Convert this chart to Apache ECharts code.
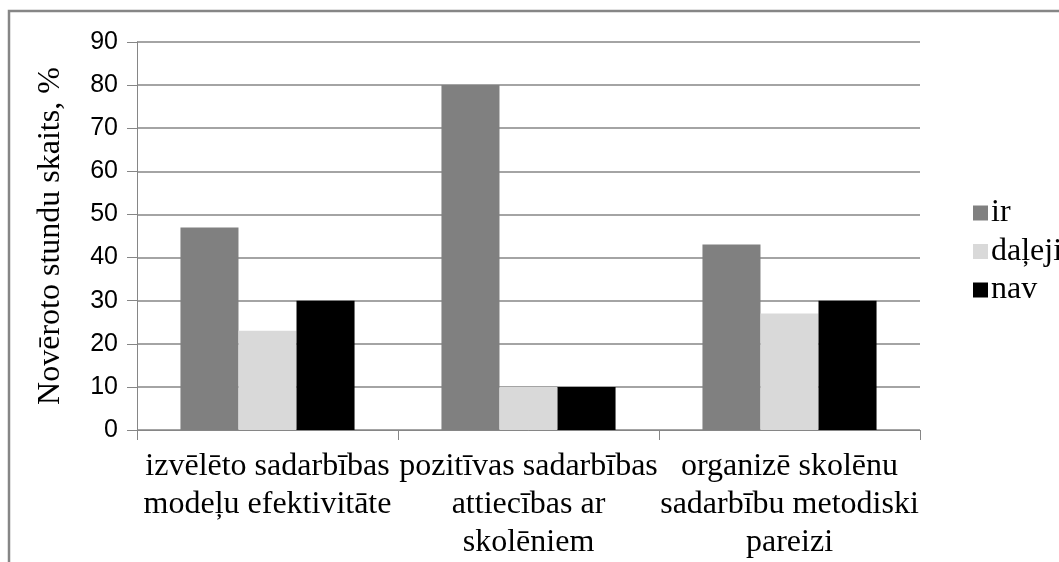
<!DOCTYPE html>
<html><head><meta charset="utf-8">
<script src="https://cdn.jsdelivr.net/npm/echarts@6/dist/echarts.min.js"></script>
<style>html,body{margin:0;padding:0;background:#fff;overflow:hidden}#c{width:1059px;height:562px}</style>
</head><body><div id="c"></div>
<script>
var categories = ["izvēlēto sadarbības\nmodeļu efektivitāte", "pozitīvas sadarbības\nattiecības ar\nskolēniem", "organizē skolēnu\nsadarbību metodiski\npareizi"];
var seriesNames = ["ir", "daļeji", "nav"];
var irValues = [47, 80, 43];
var dalejiValues = [23, 10, 27];
var navValues = [30, 10, 30];
var yTicks = [0, 10, 20, 30, 40, 50, 60, 70, 80, 90];
var yAxisTitle = "Novēroto stundu skaits, %";

var colors = ["#808080", "#d9d9d9", "#000000"];
var serif = "Liberation Serif";
var chart = echarts.init(document.getElementById('c'), null, {renderer: 'canvas'});
chart.setOption({
  animation: false,
  backgroundColor: '#fff',
  graphic: [{type: 'rect', shape: {x: 9, y: 11, width: 1100, height: 600}, style: {fill: 'none', stroke: '#868686', lineWidth: 2.5}, z: -1}],
  grid: {left: 137, width: 783, top: 42, height: 388, containLabel: false},
  legend: {
    orient: 'vertical', left: 968, top: 192, itemWidth: 15, itemHeight: 15, itemGap: 6.5,
    icon: 'rect',
    data: seriesNames,
    textStyle: {fontFamily: serif, fontSize: 32, lineHeight: 32, color: '#000', padding: [0,0,0,-2]}
  },
  xAxis: {
    type: 'category', data: categories,
    axisLine: {lineStyle: {color: '#868686', width: 1}},
    axisTick: {show: true, length: 10, lineStyle: {color: '#868686'}},
    axisLabel: {interval: 0, fontFamily: serif, fontSize: 32, color: '#000', lineHeight: 38, margin: 18}
  },
  yAxis: {
    type: 'value', min: yTicks[0], max: yTicks[yTicks.length-1], interval: 10,
    name: yAxisTitle, nameLocation: 'middle', nameGap: 70,
    nameTextStyle: {fontFamily: serif, fontSize: 32, color: '#000'},
    axisLine: {show: true, lineStyle: {color: '#868686', width: 1}},
    axisTick: {show: true, length: 10, lineStyle: {color: '#868686'}},
    axisLabel: {fontFamily: 'Liberation Sans', fontSize: 25, color: '#000', margin: 19},
    splitLine: {lineStyle: {color: '#868686', width: 1.5}}
  },
  series: [
    {name: seriesNames[0], type: 'bar', data: irValues, itemStyle: {color: colors[0]}, barGap: '0%', barCategoryGap: '33.3%'},
    {name: seriesNames[1], type: 'bar', data: dalejiValues, itemStyle: {color: colors[1]}, barGap: '0%', barCategoryGap: '33.3%'},
    {name: seriesNames[2], type: 'bar', data: navValues, itemStyle: {color: colors[2]}, barGap: '0%', barCategoryGap: '33.3%'}
  ]
});
</script></body></html>
